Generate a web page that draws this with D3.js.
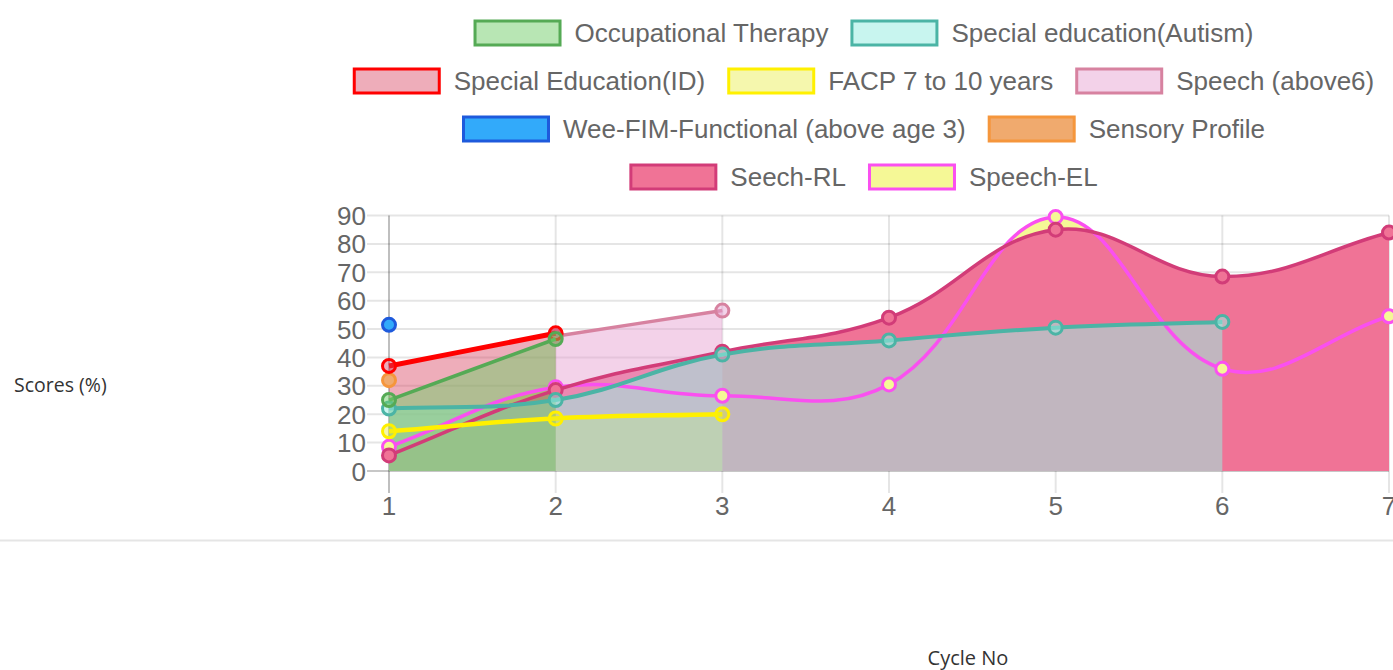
<!DOCTYPE html>
<html>
<head>
<meta charset="utf-8">
<script src="https://cdn.jsdelivr.net/npm/d3@7"></script>
<style>
    body { margin: 0; background: #fff; }
    svg { display: block; }
</style>
</head>
<body>
<div id="chart"></div>
<script>
// values
var cycles = [1, 2, 3, 4, 5, 6, 7];
var yTicks = [0, 10, 20, 30, 40, 50, 60, 70, 80, 90];
var seriesNames = [
    "Occupational Therapy",
    "Special education(Autism)",
    "Special Education(ID)",
    "FACP 7 to 10 years",
    "Speech (above6)",
    "Wee-FIM-Functional (above age 3)",
    "Sensory Profile",
    "Seech-RL",
    "Speech-EL"
];
var occupationalTherapy = [25, 46.5];
var specialEducationAutism = [22, 25, 41, 46, 50.5, 52.5];
var specialEducationId = [37, 48.5];
var facp = [14, 18.5, 20];
var speechAbove6 = [null, 47.5, 56.5];
var weeFim = [51.5];
var sensoryProfile = [32];
var seechRl = [5.5, 28.5, 42, 54, 85, 68.5, 84];
var speechEl = [8.5, 29.5, 26.5, 30.5, 89.5, 36, 54.5];

var seriesValues = [occupationalTherapy, specialEducationAutism, specialEducationId, facp,
    speechAbove6, weeFim, sensoryProfile, seechRl, speechEl];

// fill / border colours per series
var fills = [
    "rgba(113, 205, 105, 0.5)",
    "rgba(155, 237, 226, 0.55)",
    "rgba(215, 60, 90, 0.42)",
    "rgba(230, 235, 40, 0.38)",
    "rgba(229, 161, 209, 0.48)",
    "rgb(50, 170, 250)",
    "rgb(240, 170, 110)",
    "rgb(240, 115, 150)",
    "rgb(245, 248, 150)"
];
var borders = [
    "rgb(85, 170, 85)",
    "rgb(75, 180, 165)",
    "rgb(255, 0, 0)",
    "rgb(255, 240, 0)",
    "rgb(215, 130, 160)",
    "rgb(30, 90, 220)",
    "rgb(245, 150, 60)",
    "rgb(210, 60, 120)",
    "rgb(250, 80, 240)"
];
var lineWidths = [3.5, 4, 5, 4.5, 3.5, 3.5, 3.5, 3.5, 3.5];

function ScoreChart(width, height) {
    this.width = width;
    this.height = height;
    this.svg = document.createElementNS(d3.namespaces.svg, "svg");
    d3.select(this.svg)
        .attr("width", width)
        .attr("height", height)
        .attr("viewBox", "0 0 " + width + " " + height);
    this.area = {left: 389, right: 1389, top: 215.5, bottom: 471};
    this.x = d3.scalePoint().domain(cycles).range([this.area.left, this.area.right]);
    this.y = d3.scaleLinear().domain([0, 90]).range([this.area.bottom, this.area.top]);
    this.font = "'Liberation Sans', Arial, Helvetica, sans-serif";
}

// chart.js style spline, control points kept inside the plot area
ScoreChart.prototype.points = function(values) {
    var self = this;
    var pts = [];
    values.forEach(function(v, i) {
        if (v !== null) pts.push({x: self.x(cycles[i]), y: self.y(v)});
    });
    var a = this.area;
    pts.forEach(function(p, i) {
        var prev = pts[i - 1] || p, next = pts[i + 1] || p;
        var d01 = Math.hypot(p.x - prev.x, p.y - prev.y);
        var d12 = Math.hypot(next.x - p.x, next.y - p.y);
        var s01 = d01 / (d01 + d12) || 0, s12 = d12 / (d01 + d12) || 0;
        var fa = 0.4 * s01, fb = 0.4 * s12;
        p.c1x = Math.max(a.left, Math.min(a.right, p.x - fa * (next.x - prev.x)));
        p.c1y = Math.max(a.top, Math.min(a.bottom, p.y - fa * (next.y - prev.y)));
        p.c2x = Math.max(a.left, Math.min(a.right, p.x + fb * (next.x - prev.x)));
        p.c2y = Math.max(a.top, Math.min(a.bottom, p.y + fb * (next.y - prev.y)));
    });
    return pts;
};

ScoreChart.prototype.curve = function(pts, path) {
    path.moveTo(pts[0].x, pts[0].y);
    for (var i = 1; i < pts.length; i++) {
        path.bezierCurveTo(pts[i - 1].c2x, pts[i - 1].c2y, pts[i].c1x, pts[i].c1y, pts[i].x, pts[i].y);
    }
    return path;
};

ScoreChart.prototype.drawGrid = function() {
    var g = d3.select(this.svg).append("g");
    var a = this.area, x = this.x, y = this.y;
    g.selectAll("line.h")
        .data(yTicks)
        .enter()
        .append("line")
        .attr("x1", a.left - 22)
        .attr("x2", a.right)
        .attr("y1", function(d) { return y(d); })
        .attr("y2", function(d) { return y(d); })
        .style("stroke", function(d) { return d === 0 ? "rgba(0,0,0,0.22)" : "rgba(0,0,0,0.1)"; })
        .style("stroke-width", 2);
    g.selectAll("line.v")
        .data(cycles)
        .enter()
        .append("line")
        .attr("x1", function(d) { return x(d); })
        .attr("x2", function(d) { return x(d); })
        .attr("y1", a.top)
        .attr("y2", a.bottom + 22)
        .style("stroke", function(d, i) { return i === 0 ? "rgba(0,0,0,0.25)" : "rgba(0,0,0,0.1)"; })
        .style("stroke-width", 2);

    g.selectAll("text.yl")
        .data(yTicks)
        .enter()
        .append("text")
        .attr("x", a.left - 23)
        .attr("y", function(d) { return y(d) + 9.5; })
        .attr("text-anchor", "end")
        .style("font-family", this.font)
        .style("font-size", "26px")
        .style("fill", "#666")
        .text(function(d) { return d; });
    g.selectAll("text.xl")
        .data(cycles)
        .enter()
        .append("text")
        .attr("x", function(d) { return x(d); })
        .attr("y", a.bottom + 44)
        .attr("text-anchor", "middle")
        .style("font-family", this.font)
        .style("font-size", "26px")
        .style("fill", "#666")
        .text(function(d) { return d; });
};

ScoreChart.prototype.drawSeries = function() {
    var root = d3.select(this.svg);
    var fillLayer = root.append("g");
    var lineLayer = root.append("g");
    var y0 = this.y(0);
    // chart.js paints the last dataset first
    for (var k = seriesValues.length - 1; k >= 0; k--) {
        var pts = this.points(seriesValues[k]);
        if (pts.length > 1) {
            var ap = this.curve(pts, d3.path());
            ap.lineTo(pts[pts.length - 1].x, y0);
            ap.lineTo(pts[0].x, y0);
            ap.closePath();
            fillLayer.append("path")
                .attr("d", ap.toString())
                .style("fill", fills[k])
                .style("stroke", "none");
        }
    }
    for (var j = seriesValues.length - 1; j >= 0; j--) {
        var p = this.points(seriesValues[j]);
        var g = lineLayer.append("g");
        if (p.length > 1) {
            g.append("path")
                .attr("d", this.curve(p, d3.path()).toString())
                .style("fill", "none")
                .style("stroke", borders[j])
                .style("stroke-width", lineWidths[j])
                .style("stroke-linejoin", "round");
        }
        g.selectAll("circle")
            .data(p)
            .enter()
            .append("circle")
            .attr("cx", function(d) { return d.x; })
            .attr("cy", function(d) { return d.y; })
            .attr("r", 6.5)
            .style("fill", fills[j])
            .style("stroke", borders[j])
            .style("stroke-width", 3);
    }
};

ScoreChart.prototype.drawLegend = function() {
    var root = d3.select(this.svg);
    var g = root.append("g");
    var font = this.font;
    var box = 88, gap = 13, pad = 22, maxWidth = 1078, center = 863.5;
    var probe = g.append("text").style("font-family", font).style("font-size", "26px");
    var items = seriesNames.map(function(name, i) {
        probe.text(name);
        return {name: name, i: i, w: box + gap + probe.node().getComputedTextLength()};
    });
    probe.remove();

    var rows = [[]], lw = 0;
    items.forEach(function(it, i) {
        if (i > 0 && lw + it.w + 2 * pad > maxWidth) {
            rows.push([]);
            lw = 0;
        }
        rows[rows.length - 1].push(it);
        lw += it.w + pad;
    });

    rows.forEach(function(row, r) {
        var total = d3.sum(row, function(d) { return d.w; }) + pad * (row.length - 1);
        var cx = center - total / 2;
        var cy = 33 + r * 48;
        row.forEach(function(it) {
            g.append("rect")
                .attr("x", cx + 1.5)
                .attr("y", cy - 12)
                .attr("width", box - 3)
                .attr("height", 24)
                .style("fill", fills[it.i])
                .style("stroke", borders[it.i])
                .style("stroke-width", 3);
            g.append("text")
                .attr("x", cx + box + gap)
                .attr("y", cy + 9)
                .style("font-family", font)
                .style("font-size", "26px")
                .style("fill", "#666")
                .text(it.name);
            cx += it.w + pad;
        });
    });
};

ScoreChart.prototype.drawFrame = function() {
    var root = d3.select(this.svg);
    root.append("line")
        .attr("x1", 0)
        .attr("x2", this.width)
        .attr("y1", 540.5)
        .attr("y2", 540.5)
        .style("stroke", "#e5e5e5")
        .style("stroke-width", 2);
    root.append("text")
        .attr("x", 14)
        .attr("y", 392)
        .style("font-family", "'Open Sans', 'Noto Sans', sans-serif")
        .style("font-size", "19.5px")
        .style("fill", "#333")
        .text("Scores (%)");
    root.append("text")
        .attr("x", 968)
        .attr("y", 665)
        .attr("text-anchor", "middle")
        .style("font-family", "'Open Sans', 'Noto Sans', sans-serif")
        .style("font-size", "20px")
        .style("fill", "#333")
        .text("Cycle No");
};

ScoreChart.prototype.getNode = function() {
    return d3.select(this.svg).node();
};

var chart = new ScoreChart(1393, 670);
document.getElementById("chart").appendChild(chart.getNode());
chart.drawGrid();
chart.drawSeries();
chart.drawLegend();
chart.drawFrame();
</script>
</body>
</html>
